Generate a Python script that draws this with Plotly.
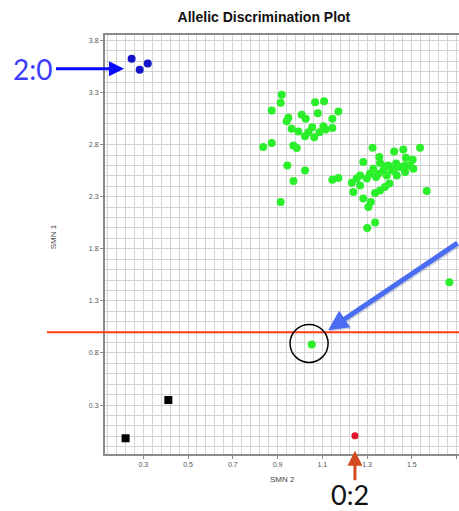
import plotly.graph_objects as go

# Allele 1 homozygotes (SMN 2 signal, SMN 1 signal)
blue_x = [0.248, 0.284, 0.320]
blue_y = [3.624, 3.519, 3.579]

# No-template controls
ntc_x = [0.221, 0.412]
ntc_y = [-0.019, 0.348]

# Allele 2 homozygote
red_x = [1.246]
red_y = [0.006]

# Heterozygotes
green_x = [
    0.919, 0.914, 0.874, 1.068, 1.108, 1.172, 1.080, 1.008, 1.026, 0.948,
    0.941, 1.145, 0.963, 0.993, 1.055, 1.038, 1.023, 1.064, 1.105, 1.115,
    1.145, 1.087, 0.836, 0.874, 0.971, 0.986, 0.944, 1.023, 0.971, 0.914,
    1.145, 1.172,
    1.325, 1.421, 1.462, 1.537, 1.283, 1.355, 1.358, 1.395, 1.474, 1.504,
    1.492, 1.507, 1.328, 1.373, 1.410, 1.448, 1.470, 1.433, 1.388, 1.351,
    1.313, 1.269, 1.254, 1.299, 1.232, 1.269, 1.239, 1.336, 1.358, 1.380,
    1.400, 1.283, 1.317, 1.306, 1.567, 1.301, 1.336, 1.380, 1.430, 1.470,
    1.340, 1.420,
    1.668, 1.053,
]
green_y = [
    3.279, 3.202, 3.128, 3.208, 3.218, 3.119, 3.102, 3.087, 3.049, 3.058,
    3.026, 3.049, 2.953, 2.927, 2.968, 2.920, 2.882, 2.872, 2.978, 2.946,
    2.959, 2.920, 2.777, 2.815, 2.793, 2.767, 2.601, 2.553, 2.451, 2.249,
    2.464, 2.479,
    2.771, 2.735, 2.754, 2.771, 2.633, 2.681, 2.623, 2.601, 2.675, 2.656,
    2.601, 2.569, 2.569, 2.553, 2.560, 2.585, 2.537, 2.505, 2.505, 2.521,
    2.521, 2.505, 2.474, 2.474, 2.435, 2.409, 2.345, 2.335, 2.361, 2.393,
    2.426, 2.282, 2.249, 2.201, 2.355, 2.000, 2.052, 2.590, 2.620, 2.600,
    2.490, 2.550,
    1.479, 0.882,
]

x_range = [0.129, 1.711]
y_range = [-0.170, 3.853]
cutoff = 1.0

fig = go.Figure()
fig.add_trace(go.Scatter(x=green_x, y=green_y, mode="markers",
                         marker=dict(color="#2aef2a", size=8)))
fig.add_trace(go.Scatter(x=blue_x, y=blue_y, mode="markers",
                         marker=dict(color="#1414c8", size=8)))
fig.add_trace(go.Scatter(x=red_x, y=red_y, mode="markers",
                         marker=dict(color="#e0142a", size=7)))
fig.add_trace(go.Scatter(x=ntc_x, y=ntc_y, mode="markers",
                         marker=dict(color="#000000", size=8, symbol="square")))

grid = "#d4d4d4"
tickfont = dict(family="Liberation Sans, Arial", size=7, color="#555555")

fig.update_xaxes(
    range=x_range, tick0=0.3, dtick=0.2, tickformat=".1f",
    showgrid=True, gridcolor=grid, gridwidth=1,
    minor=dict(tick0=0.3, dtick=0.04, showgrid=True, gridcolor=grid, gridwidth=1),
    showline=True, linecolor="#8a8a8a", linewidth=2, mirror=True,
    ticks="outside", ticklen=3, tickcolor="#8a8a8a", tickfont=tickfont,
    zeroline=False,
)
fig.update_yaxes(
    range=y_range, tick0=0.3, dtick=0.5, tickformat=".1f",
    showgrid=True, gridcolor=grid, gridwidth=1,
    minor=dict(tick0=0.3, dtick=0.1, showgrid=True, gridcolor=grid, gridwidth=1),
    showline=True, linecolor="#8a8a8a", linewidth=2,
    ticks="outside", ticklen=3, tickcolor="#8a8a8a", tickfont=tickfont,
    zeroline=False,
)

cut_paper = (cutoff - y_range[0]) / (y_range[1] - y_range[0])

shapes = [
    # genotype cutoff line
    dict(type="line", xref="paper", yref="paper", x0=-0.164, x1=1.0,
         y0=cut_paper, y1=cut_paper, line=dict(color="#ff3c14", width=2)),
    # highlighted sample
    dict(type="circle", xref="x", yref="y", x0=0.956, x1=1.126,
         y0=0.709, y1=1.074, line=dict(color="#000000", width=1.5)),
]

annotations = [
    dict(text="SMN 2", xref="paper", yref="paper", x=0.5, y=-0.06, yanchor="middle",
         showarrow=False, font=dict(family="Liberation Sans, Arial", size=8, color="#444444")),
    dict(text="SMN 1", xref="paper", yref="paper", x=-0.163, y=0.519, textangle=-90,
         showarrow=False, font=dict(family="Liberation Sans, Arial", size=8, color="#444444")),
    dict(text="2:0", xref="x", yref="y", x=0.214, y=3.528, ax=-92, ay=0,
         showarrow=True, arrowhead=2, arrowsize=1, arrowwidth=3, arrowcolor="#0a0aff",
         borderpad=4, standoff=0,
         font=dict(family="Lato, Noto Sans", size=28, color="#3b3bff")),
    dict(text="0:2", xref="x", yref="paper", x=1.224, y=-0.0955,
         xanchor="center", yanchor="middle", showarrow=False, borderpad=0,
         font=dict(family="Lato, Noto Sans", size=27, color="#111111")),
    dict(text="", xref="x", yref="y", x=1.246, y=-0.138, ax=0, ay=31,
         showarrow=True, arrowhead=2, arrowsize=1, arrowwidth=3, arrowcolor="#d24a1e",
         standoff=0),
    # pointer shadow, then pointer
    dict(text="", xref="x", yref="y", x=1.126, y=1.019, ax=140, ay=-88,
         xshift=1, yshift=-1.5,
         showarrow=True, arrowhead=2, arrowsize=0.8, arrowwidth=5,
         arrowcolor="rgba(20,30,90,0.18)", standoff=0),
    dict(text="", xref="x", yref="y", x=1.126, y=1.019, ax=140, ay=-88,
         showarrow=True, arrowhead=2, arrowsize=0.8, arrowwidth=5,
         arrowcolor="#4a6cf2", standoff=0),
]

fig.update_layout(
    width=459, height=511,
    margin=dict(l=105, r=0, t=35, b=57),
    paper_bgcolor="#ffffff", plot_bgcolor="#ffffff",
    showlegend=False,
    title=dict(text="<b>Allelic Discrimination Plot</b>", xref="container", yref="container",
               x=0.575, xanchor="center", y=0.967, yanchor="middle",
               font=dict(family="Liberation Sans, Arial", size=14, color="#111111")),
    shapes=shapes,
    annotations=annotations,
)

fig.write_html("out.html")
